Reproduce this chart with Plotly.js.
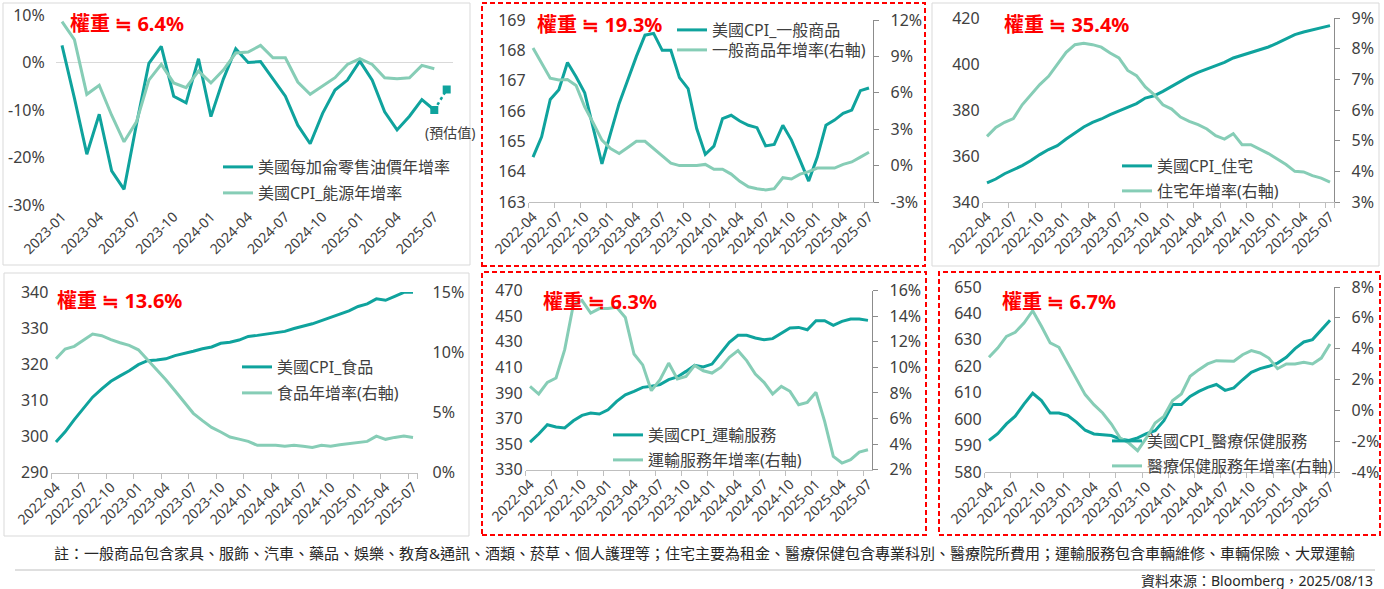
<!DOCTYPE html>
<html>
<head>
<meta charset="utf-8">
<script src="https://cdn.plot.ly/plotly-3.0.1.min.js"></script>
<style>
  html, body { margin: 0; padding: 0; background: #fff; }
  #chart { width: 1384px; height: 589px; }
</style>
</head>
<body>
<div id="chart"></div>
<script>
// ---------------- data ----------------
function monthList(year, month, count) {
  var out = [];
  for (var i = 0; i < count; i++) {
    var m = month + i;
    var y = year + Math.floor((m - 1) / 12);
    var mm = ((m - 1) % 12) + 1;
    out.push(y + '-' + (mm < 10 ? '0' + mm : mm));
  }
  return out;
}

var months23 = monthList(2023, 1, 32);   // 2023-01 .. 2025-08
var months22 = monthList(2022, 4, 40);   // 2022-04 .. 2025-07

// panel 1: gasoline / energy yoy (%)
var gasYoy = [3.6, -7.5, -19.3, -10.9, -22.8, -26.7, -13.0, -0.2, 3.4, -7.1, -8.5, 0.8, -11.4, -3.5, 2.9, 0.0,
              0.2, -3.4, -7.1, -13.2, -17.1, -10.7, -5.8, -3.7, 0.3, -3.7, -10.4, -14.2, -11.3, -7.8, -10.0];
var energyYoy = [8.6, 4.8, -6.7, -4.8, -11.1, -16.7, -12.5, -3.7, -0.4, -4.3, -5.3, -1.8, -4.3, -1.6, 2.0, 2.2,
                 3.6, 1.0, 1.0, -4.1, -6.7, -5.0, -3.2, -0.4, 0.8, -0.4, -3.2, -3.4, -3.2, -0.6, -1.3];
var gasEstMonths = ['2025-07', '2025-08'];
var gasEst = [-10.0, -5.7];

// panel 2: core goods
var goodsIdx = [164.48, 165.15, 166.38, 166.7, 167.6, 167.13, 166.6, 165.42, 164.26, 165.26,
                166.25, 167.02, 167.8, 168.5, 168.56, 168.0, 168.0, 167.1, 166.74, 165.42,
                164.57, 164.84, 165.75, 165.86, 165.67, 165.53, 165.45, 164.85, 164.9, 165.53,
                165.04, 164.37, 163.69, 164.48, 165.53, 165.7, 165.92, 166.03, 166.67, 166.76];
var goodsYoy = [9.7, 8.4, 7.2, 7.05, 7.1, 6.6, 4.85, 3.5, 2.1, 1.4,
                1.0, 1.5, 2.0, 2.0, 1.4, 0.85, 0.2, 0.0, 0.0, 0.0,
                0.1, -0.3, -0.3, -0.7, -1.3, -1.75, -1.9, -2.0, -1.9, -1.0,
                -1.1, -0.7, -0.5, -0.2, -0.2, -0.2, 0.1, 0.3, 0.7, 1.1];

// panel 3: shelter
var shelterIdx = [348.3, 350.0, 352.3, 354.1, 355.8, 358.0, 360.6, 362.8, 364.5, 367.4,
                  370.0, 372.6, 374.6, 376.1, 378.0, 379.7, 381.3, 382.8, 385.2, 386.2,
                  388.1, 390.3, 392.5, 394.6, 396.4, 397.8, 399.4, 400.7, 402.6, 403.8,
                  404.8, 406.2, 407.4, 409.1, 411.0, 412.8, 413.9, 414.9, 415.9, 416.7];
var shelterYoy = [5.14, 5.43, 5.6, 5.72, 6.17, 6.5, 6.83, 7.1, 7.48, 7.88,
                  8.13, 8.18, 8.13, 8.05, 7.86, 7.7, 7.29, 7.12, 6.75, 6.5,
                  6.17, 6.03, 5.77, 5.63, 5.52, 5.38, 5.16, 5.05, 5.23, 4.87,
                  4.87, 4.73, 4.58, 4.4, 4.22, 4.0, 3.98, 3.86, 3.78, 3.65];

// panel 4: food
var foodIdx = [298.5, 301.3, 304.7, 307.9, 310.9, 313.2, 315.3, 316.8, 318.2, 319.9,
               321.0, 321.2, 321.5, 322.4, 322.9, 323.6, 324.3, 324.8, 325.8, 326.1,
               326.7, 327.7, 328.0, 328.3, 328.6, 329.1, 329.9, 330.5, 331.2, 332.1,
               333.0, 333.9, 334.8, 336.0, 336.7, 338.1, 337.7, 338.8, 339.9, 339.9];
var foodYoy = [9.46, 10.27, 10.49, 10.99, 11.51, 11.37, 11.04, 10.79, 10.57, 10.2,
               9.38, 8.55, 7.72, 6.8, 5.84, 4.93, 4.32, 3.76, 3.38, 2.96,
               2.79, 2.6, 2.27, 2.27, 2.27, 2.19, 2.27, 2.19, 2.1, 2.27,
               2.19, 2.32, 2.43, 2.52, 2.6, 3.04, 2.77, 2.93, 3.04, 2.93];

// panel 5: transportation services
var transIdx = [351.6, 357.9, 365.2, 363.4, 362.6, 368.3, 372.5, 374.3, 373.5, 376.9,
                383.4, 388.6, 391.3, 394.4, 395.2, 396.5, 400.4, 402.5, 406.9, 411.6,
                410.3, 412.6, 421.2, 429.6, 435.1, 435.1, 433.0, 431.7, 432.5, 436.9,
                440.8, 441.3, 439.5, 446.5, 446.5, 442.9, 446.0, 447.8, 447.8, 446.8];
var transYoy = [8.52, 7.92, 8.83, 9.17, 11.39, 14.9, 15.24, 14.25, 14.6, 14.6,
                14.7, 13.9, 11.05, 10.2, 8.18, 9.04, 10.34, 9.1, 9.3, 10.16,
                9.74, 9.56, 10.0, 10.79, 11.31, 10.53, 9.48, 8.83, 7.92, 8.52,
                8.13, 7.08, 7.27, 8.05, 5.78, 3.04, 2.52, 2.78, 3.38, 3.56];

// panel 6: medical care services
var medIdx = [591.9, 594.5, 598.2, 601.1, 605.7, 609.8, 607.0, 602.3, 602.3, 601.4,
              598.9, 595.8, 594.4, 594.1, 593.8, 592.5, 591.9, 592.9, 594.5, 595.6,
              599.4, 605.5, 605.5, 608.6, 610.5, 612.0, 613.1, 610.9, 611.8, 614.9,
              617.7, 619.1, 620.0, 621.2, 623.4, 626.7, 629.2, 630.1, 633.9, 637.4];
var medYoy = [3.44, 4.04, 4.8, 5.06, 5.66, 6.46, 5.45, 4.37, 4.09, 3.07,
              2.1, 1.02, 0.37, -0.17, -0.89, -1.79, -2.12, -2.62, -1.79, -0.82,
              -0.39, 0.63, 1.06, 2.21, 2.64, 3.01, 3.22, 3.22, 3.18, 3.61,
              3.87, 3.72, 3.39, 2.7, 3.01, 3.01, 3.11, 3.01, 3.39, 4.3];

// tick values / labels
var p1Ticks = [-30, -20, -10, 0, 10];
var p1Text = ['-30%', '-20%', '-10%', '0%', '10%'];
var p2RTicks = [-3, 0, 3, 6, 9, 12];
var p2RText = ['-3%', '0%', '3%', '6%', '9%', '12%'];
var p6RTicks = [-4, -2, 0, 2, 4, 6, 8];
var p6RText = ['-4%', '-2%', '0%', '2%', '4%', '6%', '8%'];

var weights = ['權重 ≒ 6.4%', '權重 ≒ 19.3%', '權重 ≒ 35.4%', '權重 ≒ 13.6%', '權重 ≒ 6.3%', '權重 ≒ 6.7%'];
var noteText = '註：一般商品包含家具、服飾、汽車、藥品、娛樂、教育&通訊、酒類、菸草、個人護理等；住宅主要為租金、醫療保健包含專業科別、醫療院所費用；運輸服務包含車輛維修、車輛保險、大眾運輸';
var sourceText = '資料來源：Bloomberg，2025/08/13';

// ---------------- helpers ----------------
var W = 1384, H = 589;
var FAM = "'Noto Sans', 'Noto Sans CJK TC', sans-serif";
var DARK = '#0FA39D', LIGHT = '#86CDB6', TXT = '#404040';
function px(x) { return x / W; }
function py(y) { return 1 - y / H; }

function xAxis(left, right, anchor, cats, showLine) {
  return {
    domain: [px(left), px(right)], anchor: anchor, type: 'category',
    range: [-0.5, cats.length - 0.5],
    tickvals: cats.filter(function (c, i) { return i % 3 === 0; }),
    tickangle: -45, tickfont: {size: 14, color: TXT},
    showgrid: false, zeroline: false,
    showline: showLine, linecolor: '#BFBFBF', linewidth: 1,
    ticks: showLine ? 'outside' : '', tickson: 'boundaries', ticklen: 5, tickcolor: '#BFBFBF',
    fixedrange: true
  };
}
function leftAxis(top, bottom, anchor, range, dtick) {
  return {
    domain: [py(bottom), py(top)], anchor: anchor, range: range, tick0: range[0], dtick: dtick,
    tickfont: {size: 16, color: TXT}, showgrid: false, zeroline: false, showline: false,
    ticks: '', ticklabelstandoff: 2, fixedrange: true
  };
}
function rightAxis(overlay, anchor, range, dtick, showLine) {
  return {
    overlaying: overlay, anchor: anchor, side: 'right', range: range, tick0: range[0], dtick: dtick,
    ticksuffix: '%', tickfont: {size: 16, color: TXT}, showgrid: false, zeroline: false,
    showline: showLine, linecolor: '#8C8C8C', linewidth: 1,
    ticks: showLine ? 'outside' : '', ticklen: 5, tickcolor: '#8C8C8C',
    ticklabelstandoff: showLine ? 8 : 14, fixedrange: true
  };
}
function line(x, y, name, color, xa, ya, leg) {
  return {x: x, y: y, name: name, type: 'scatter', mode: 'lines', xaxis: xa, yaxis: ya,
          legend: leg, line: {color: color, width: 3}, hoverinfo: 'x+y'};
}
function legendAt(x, y) {
  return {x: px(x - 5), y: py(y - 17), xanchor: 'left', yanchor: 'top',
          bgcolor: 'rgba(0,0,0,0)', font: {size: 16, color: TXT, family: FAM},
          itemwidth: 30, tracegroupgap: 0};
}

// ---------------- traces ----------------
var data = [
  line(months23, gasYoy, '美國每加侖零售油價年增率', DARK, 'x', 'y', 'legend'),
  line(months23, energyYoy, '美國CPI_能源年增率', LIGHT, 'x', 'y', 'legend2'),
  {x: gasEstMonths, y: gasEst, type: 'scatter', mode: 'lines+markers', xaxis: 'x', yaxis: 'y',
   showlegend: false, line: {color: DARK, width: 2.5, dash: 'dot'},
   marker: {symbol: 'square', size: 8, color: DARK}},

  line(months22, goodsIdx, '美國CPI_一般商品', DARK, 'x2', 'y2', 'legend3'),
  line(months22, goodsYoy, '一般商品年增率(右軸)', LIGHT, 'x2', 'y3', 'legend4'),

  line(months22, shelterIdx, '美國CPI_住宅', DARK, 'x3', 'y4', 'legend5'),
  line(months22, shelterYoy, '住宅年增率(右軸)', LIGHT, 'x3', 'y5', 'legend6'),

  line(months22, foodIdx, '美國CPI_食品', DARK, 'x4', 'y6', 'legend7'),
  line(months22, foodYoy, '食品年增率(右軸)', LIGHT, 'x4', 'y7', 'legend8'),

  line(months22, transIdx, '美國CPI_運輸服務', DARK, 'x5', 'y8', 'legend9'),
  line(months22, transYoy, '運輸服務年增率(右軸)', LIGHT, 'x5', 'y9', 'legend10'),

  line(months22, medIdx, '美國CPI_醫療保健服務', DARK, 'x6', 'y10', 'legend11'),
  line(months22, medYoy, '醫療保健服務年增率(右軸)', LIGHT, 'x6', 'y11', 'legend12')
];

// ---------------- layout ----------------
var y1 = leftAxis(15, 205, 'x', [-30, 10], 10);
y1.tickvals = p1Ticks; y1.ticktext = p1Text;
y1.zeroline = true; y1.zerolinecolor = '#D9D9D9'; y1.zerolinewidth = 1;
y1.ticklabelstandoff = 10;

var y3 = rightAxis('y2', 'x2', [-3, 12], 3, true);
y3.tickvals = p2RTicks; y3.ticktext = p2RText;
var y11 = rightAxis('y10', 'x6', [-4, 8], 2, true);
y11.tickvals = p6RTicks; y11.ticktext = p6RText;

function box(x0, y0, x1, y1, red) {
  return {type: 'rect', xref: 'paper', yref: 'paper', x0: px(x0), x1: px(x1), y0: py(y1), y1: py(y0),
          line: red ? {color: '#FF0000', width: 2, dash: '5px,3px'} : {color: '#D9D9D9', width: 1},
          fillcolor: 'rgba(0,0,0,0)', layer: 'below'};
}
function weightLabel(text, x, y) {
  return {text: '<b>' + text + '</b>', xref: 'paper', yref: 'paper', x: px(x), y: py(y),
          xanchor: 'left', yanchor: 'middle', showarrow: false,
          font: {size: 20, color: '#FF0000', family: FAM}};
}

var layout = {
  width: W, height: H, margin: {l: 0, r: 0, t: 0, b: 0},
  paper_bgcolor: '#fff', plot_bgcolor: 'rgba(0,0,0,0)',
  font: {family: FAM, color: TXT},
  hovermode: 'closest',
  xaxis: xAxis(55.8, 452.9, 'y', months23, false),
  yaxis: y1,
  xaxis2: xAxis(528.7, 873.3, 'y2', months22, true),
  yaxis2: leftAxis(20, 202, 'x2', [163, 169], 1),
  yaxis3: y3,
  xaxis3: xAxis(982.6, 1334.4, 'y4', months22, true),
  yaxis4: leftAxis(18, 202, 'x3', [340, 420], 20),
  yaxis5: rightAxis('y4', 'x3', [3, 9], 1, true),
  xaxis4: xAxis(51.4, 417.6, 'y6', months22, true),
  yaxis6: leftAxis(292, 472.7, 'x4', [290, 340], 10),
  yaxis7: rightAxis('y6', 'x4', [0, 15], 5, false),
  xaxis5: xAxis(525.7, 872.3, 'y8', months22, true),
  yaxis8: leftAxis(290.7, 469.7, 'x5', [330, 470], 20),
  yaxis9: rightAxis('y8', 'x5', [2, 16], 2, true),
  xaxis6: xAxis(984.6, 1334.4, 'y10', months22, true),
  yaxis10: leftAxis(287, 472, 'x6', [580, 650], 10),
  yaxis11: y11,
  legend: legendAt(223, 167), legend2: legendAt(223, 193),
  legend3: legendAt(677, 30), legend4: legendAt(677, 50),
  legend5: legendAt(1122, 166), legend6: legendAt(1122, 191),
  legend7: legendAt(242, 367), legend8: legendAt(242, 393),
  legend9: legendAt(613, 435), legend10: legendAt(613, 460),
  legend11: legendAt(1112, 441), legend12: legendAt(1112, 466),
  shapes: [
    box(3, 3, 470, 265, false),
    box(482, 3, 925, 266, true),
    box(932, 3, 1379, 266, false),
    box(4, 273, 469, 536, false),
    box(482, 272, 926, 535, true),
    box(939, 272, 1380, 535, true),
    {type: 'line', xref: 'paper', yref: 'paper', x0: px(15), x1: px(1375), y0: py(570), y1: py(570),
     line: {color: '#BFBFBF', width: 1}}
  ],
  annotations: [
    weightLabel(weights[0], 68, 23),
    weightLabel(weights[1], 535, 25),
    weightLabel(weights[2], 1002, 25),
    weightLabel(weights[3], 55, 300),
    weightLabel(weights[4], 541, 301),
    weightLabel(weights[5], 1000, 301),
    {text: '(預估值)', xref: 'paper', yref: 'paper', x: px(423), y: py(132), xanchor: 'left', yanchor: 'middle',
     showarrow: false, font: {size: 14, color: TXT}},
    {text: noteText, xref: 'paper', yref: 'paper', x: px(705), y: py(553), xanchor: 'center', yanchor: 'middle',
     showarrow: false, font: {size: 15, color: '#262626'}},
    {text: sourceText, xref: 'paper', yref: 'paper', x: px(1375), y: py(580), xanchor: 'right', yanchor: 'middle',
     showarrow: false, font: {size: 14, color: '#262626'}}
  ]
};

Plotly.newPlot('chart', data, layout, {displayModeBar: false, staticPlot: true});
</script>
</body>
</html>
